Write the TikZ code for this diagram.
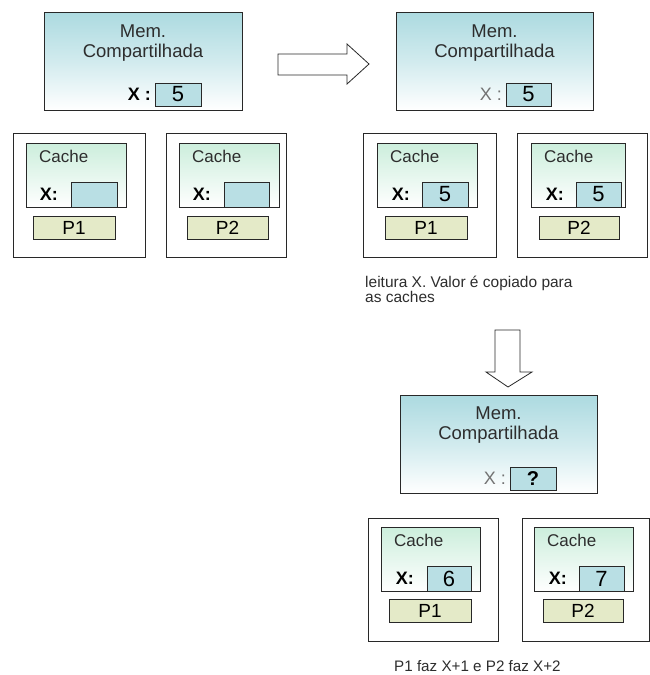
\documentclass[tikz,border=0pt]{standalone}
\usepackage{fontspec}
\setmainfont{Liberation Sans}
\usetikzlibrary{calc}
\definecolor{memtop}{RGB}{172,218,224}
\definecolor{valfill}{RGB}{185,223,228}
\definecolor{cachetop}{RGB}{204,238,220}
\definecolor{pfill}{RGB}{228,234,200}
\definecolor{linec}{RGB}{40,40,40}
\definecolor{txtc}{RGB}{45,45,45}
\newcommand\fsz[2]{\fontsize{#1}{#2}\selectfont}
\newcommand\bx[6]{\node[#2, minimum width={(#5-#3)*1pt}, minimum height={(#6-#4)*1pt}] (#1) at (#3,#4) {};}
\begin{document}
\begin{tikzpicture}[x=1pt,y=-1pt,
  box/.style={anchor=north west, inner sep=0pt, outer sep=0pt, draw=linec, line width=0.8pt},
  membox/.style={box, top color=memtop, bottom color=white, middle color=memtop!55!white},
  valbox/.style={box, fill=valfill},
  cachebox/.style={box, top color=cachetop, bottom color=white},
  pbox/.style={box, fill=pfill},
  outerbox/.style={box, fill=white},
  memtxt/.style={font=\fsz{18.5}{20}, text=txtc, align=center, inner sep=0pt},
  memx/.style={font=\fsz{18}{18}\bfseries, inner sep=0pt, anchor=east},
  memxthin/.style={font=\fsz{18}{18}, text=black!55, inner sep=0pt, anchor=east},
  valtxt/.style={font=\fsz{22}{22}, inner sep=0pt},
  cachetxt/.style={font=\fsz{17}{17}, text=txtc, inner sep=0pt, anchor=west},
  xtxt/.style={font=\fsz{18}{18}\bfseries, inner sep=0pt, anchor=east},
  ptxt/.style={font=\fsz{19}{19}, inner sep=0pt},
  captxt/.style={font=\fsz{15.5}{15.5}, text=txtc, inner sep=0pt, anchor=base west},
  blockarrow/.style={draw=linec, line width=0.8pt, fill=white, line join=miter}
]
\useasboundingbox (0,0) rectangle (650,675);

% ---------- Panel A ----------
\bx{memA}{membox}{44}{12}{242}{110}
\node[memtxt] (memAt) at ($(memA.north)+(0,31)$) {Mem.\\Compartilhada};
\bx{valA}{valbox}{155}{83}{201}{106}
\node[memx] (memAx) at ($(valA.west)+(-4,0)$) {X :};
\node[valtxt] (valAt) at (valA.center) {5};

\bx{A1o}{outerbox}{13}{133}{145}{257}
\bx{A1c}{cachebox}{26}{143}{126}{207}
\bx{A1v}{valbox}{71}{182}{117}{207}
\bx{A1p}{pbox}{33}{216}{115}{239}
\node[cachetxt] (A1ct) at ($(A1c.north west)+(13,13)$) {Cache};
\node[xtxt] (A1x) at ($(A1v.west)+(-13,0)$) {X:};
\node[ptxt] (A1pt) at (A1p.center) {P1};

\bx{A2o}{outerbox}{166}{133}{286}{257}
\bx{A2c}{cachebox}{179}{143}{279}{207}
\bx{A2v}{valbox}{224}{182}{269}{207}
\bx{A2p}{pbox}{187}{216}{268}{239}
\node[cachetxt] (A2ct) at ($(A2c.north west)+(13,13)$) {Cache};
\node[xtxt] (A2x) at ($(A2v.west)+(-13,0)$) {X:};
\node[ptxt] (A2pt) at (A2p.center) {P2};

% right block arrow
\draw[blockarrow] (278,54) -- (347,54) -- (347,44) -- (369,64) -- (347,84) -- (347,75) -- (278,75) -- cycle;

% ---------- Panel B ----------
\bx{memB}{membox}{396}{12}{593}{110}
\node[memtxt] (memBt) at ($(memB.north)+(0,31)$) {Mem.\\Compartilhada};
\bx{valB}{valbox}{506}{83}{551}{106}
\node[memxthin] (memBx) at ($(valB.west)+(-4,0)$) {X :};
\node[valtxt] (valBt) at (valB.center) {5};

\bx{B1o}{outerbox}{363}{133}{496}{257}
\bx{B1c}{cachebox}{377}{143}{477}{207}
\bx{B1v}{valbox}{422}{182}{468}{207}
\bx{B1p}{pbox}{385}{216}{467}{239}
\node[cachetxt] (B1ct) at ($(B1c.north west)+(13,13)$) {Cache};
\node[xtxt] (B1x) at ($(B1v.west)+(-12,0)$) {X:};
\node[valtxt] (B1vt) at (B1v.center) {5};
\node[ptxt] (B1pt) at (B1p.center) {P1};

\bx{B2o}{outerbox}{517}{133}{647}{257}
\bx{B2c}{cachebox}{531}{143}{625}{207}
\bx{B2v}{valbox}{576}{182}{621}{207}
\bx{B2p}{pbox}{539}{216}{619}{239}
\node[cachetxt] (B2ct) at ($(B2c.north west)+(13,13)$) {Cache};
\node[xtxt] (B2x) at ($(B2v.west)+(-12,0)$) {X:};
\node[valtxt] (B2vt) at (B2v.center) {5};
\node[ptxt] (B2pt) at (B2p.center) {P2};

\node[captxt] (capB1) at (365,287) {leitura X. Valor é copiado para};
\node[captxt] (capB2) at (365,302) {as caches};

% down block arrow
\draw[blockarrow] (495,330) -- (520,330) -- (520,372) -- (532,372) -- (508,387) -- (486,372) -- (495,372) -- cycle;

% ---------- Panel C ----------
\bx{memC}{membox}{400}{395}{597}{493}
\node[memtxt] (memCt) at ($(memC.north)+(0,30)$) {Mem.\\Compartilhada};
\bx{valC}{valbox}{510}{467}{556}{490}
\node[memxthin] (memCx) at ($(valC.west)+(-4,0)$) {X :};
\node[valtxt, font=\fsz{20}{20}\bfseries] (valCt) at (valC.center) {?};

\bx{C1o}{outerbox}{368}{518}{498}{641}
\bx{C1c}{cachebox}{381}{527}{480}{591}
\bx{C1v}{valbox}{427}{566}{471}{591}
\bx{C1p}{pbox}{389}{599}{471}{622}
\node[cachetxt] (C1ct) at ($(C1c.north west)+(13,13)$) {Cache};
\node[xtxt] (C1x) at ($(C1v.west)+(-13,0)$) {X:};
\node[valtxt] (C1vt) at (C1v.center) {6};
\node[ptxt] (C1pt) at (C1p.center) {P1};

\bx{C2o}{outerbox}{522}{518}{649}{641}
\bx{C2c}{cachebox}{534}{527}{633}{591}
\bx{C2v}{valbox}{579}{566}{624}{591}
\bx{C2p}{pbox}{543}{599}{623}{622}
\node[cachetxt] (C2ct) at ($(C2c.north west)+(13,13)$) {Cache};
\node[xtxt] (C2x) at ($(C2v.west)+(-12,0)$) {X:};
\node[valtxt] (C2vt) at (C2v.center) {7};
\node[ptxt] (C2pt) at (C2p.center) {P2};

\node[captxt, font=\fsz{15.2}{15.2}] (capC) at (394,671) {P1 faz X+1 e P2 faz X+2};
\end{tikzpicture}
\end{document}
